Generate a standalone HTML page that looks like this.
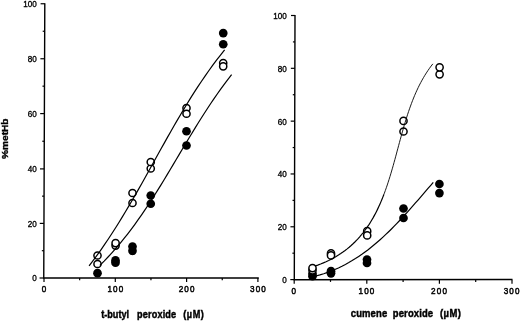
<!DOCTYPE html>
<html><head><meta charset="utf-8"><title>metHb</title>
<style>
html,body{margin:0;padding:0;background:#fff;}
svg{display:block;}
.t{font-family:"Liberation Sans",sans-serif;font-size:9px;fill:#000;stroke:#000;stroke-width:0.35px;}
.x{letter-spacing:1.3px;stroke-width:0.5px;}
.b{font-family:"Liberation Sans",sans-serif;font-size:11px;font-weight:bold;fill:#000;stroke:#000;stroke-width:0.45px;}
</style></head><body>
<svg width="520" height="321" viewBox="0 0 520 321">
<rect width="520" height="321" fill="#fff"/>
<path d="M44.8,3.2 L43.75,278.0 H258.8" fill="none" stroke="#000" stroke-width="1.4"/>
<line x1="39.55" x2="43.75" y1="278.00" y2="278.00" stroke="#000" stroke-width="1.2"/>
<text transform="translate(36.80,281.30) scale(0.9,1)" text-anchor="end" class="t">0</text>
<line x1="41.85" x2="43.85" y1="250.70" y2="250.70" stroke="#000" stroke-width="1.2"/>
<line x1="39.76" x2="43.96" y1="223.40" y2="223.40" stroke="#000" stroke-width="1.2"/>
<text transform="translate(36.80,226.70) scale(0.9,1)" text-anchor="end" class="t">20</text>
<line x1="42.06" x2="44.06" y1="196.15" y2="196.15" stroke="#000" stroke-width="1.2"/>
<line x1="39.97" x2="44.17" y1="168.90" y2="168.90" stroke="#000" stroke-width="1.2"/>
<text transform="translate(36.80,172.20) scale(0.9,1)" text-anchor="end" class="t">40</text>
<line x1="42.27" x2="44.27" y1="141.25" y2="141.25" stroke="#000" stroke-width="1.2"/>
<line x1="40.18" x2="44.38" y1="113.60" y2="113.60" stroke="#000" stroke-width="1.2"/>
<text transform="translate(36.80,116.90) scale(0.9,1)" text-anchor="end" class="t">60</text>
<line x1="42.48" x2="44.48" y1="86.17" y2="86.17" stroke="#000" stroke-width="1.2"/>
<line x1="40.39" x2="44.59" y1="58.75" y2="58.75" stroke="#000" stroke-width="1.2"/>
<text transform="translate(36.80,62.05) scale(0.9,1)" text-anchor="end" class="t">80</text>
<line x1="42.70" x2="44.70" y1="31.25" y2="31.25" stroke="#000" stroke-width="1.2"/>
<line x1="40.60" x2="44.80" y1="3.75" y2="3.75" stroke="#000" stroke-width="1.2"/>
<text transform="translate(36.80,7.05) scale(0.9,1)" text-anchor="end" class="t">100</text>
<line y1="278.0" y2="282.0" x1="44.00" x2="44.00" stroke="#000" stroke-width="1.2"/>
<text transform="translate(44.60,291.90) scale(0.9,1)" text-anchor="middle" class="t x">0</text>
<line y1="278.0" y2="280.2" x1="79.65" x2="79.65" stroke="#000" stroke-width="1.2"/>
<line y1="278.0" y2="282.0" x1="115.30" x2="115.30" stroke="#000" stroke-width="1.2"/>
<text transform="translate(115.90,291.90) scale(0.9,1)" text-anchor="middle" class="t x">100</text>
<line y1="278.0" y2="280.2" x1="150.95" x2="150.95" stroke="#000" stroke-width="1.2"/>
<line y1="278.0" y2="282.0" x1="186.60" x2="186.60" stroke="#000" stroke-width="1.2"/>
<text transform="translate(187.20,291.90) scale(0.9,1)" text-anchor="middle" class="t x">200</text>
<line y1="278.0" y2="280.2" x1="222.25" x2="222.25" stroke="#000" stroke-width="1.2"/>
<line y1="278.0" y2="282.0" x1="257.90" x2="257.90" stroke="#000" stroke-width="1.2"/>
<text transform="translate(258.50,291.90) scale(0.9,1)" text-anchor="middle" class="t x">300</text>
<text transform="translate(101.20,317.90) scale(0.83,1)" text-anchor="start" class="b">t-butyl</text><text transform="translate(137.00,317.90) scale(0.83,1)" text-anchor="start" class="b" style="letter-spacing:0.2px">peroxide</text><text transform="translate(183.20,317.90) scale(0.83,1)" text-anchor="start" class="b" style="letter-spacing:0.7px">(µM)</text>
<text transform="translate(7.7,138.7) rotate(-90) scale(0.92,0.78)" text-anchor="middle" class="b">%metHb</text>
<circle cx="97.5" cy="273.2" r="4.35" fill="#000"/>
<circle cx="115.5" cy="260.4" r="4.35" fill="#000"/>
<circle cx="115.5" cy="262.7" r="4.35" fill="#000"/>
<circle cx="132.5" cy="246.6" r="4.35" fill="#000"/>
<circle cx="132.5" cy="250.8" r="4.35" fill="#000"/>
<circle cx="150.75" cy="195.5" r="4.35" fill="#000"/>
<circle cx="150.75" cy="203.75" r="4.35" fill="#000"/>
<circle cx="186.5" cy="131.25" r="4.35" fill="#000"/>
<circle cx="186.5" cy="145.5" r="4.35" fill="#000"/>
<circle cx="223.25" cy="33.1" r="4.35" fill="#000"/>
<circle cx="223.25" cy="44.25" r="4.35" fill="#000"/>
<circle cx="97.5" cy="264" r="3.6" fill="#fff" stroke="#000" stroke-width="1.5"/>
<circle cx="97.5" cy="255.5" r="3.6" fill="#fff" stroke="#000" stroke-width="1.5"/>
<circle cx="115.6" cy="245.6" r="3.6" fill="#fff" stroke="#000" stroke-width="1.5"/>
<circle cx="115.6" cy="243.1" r="3.6" fill="#fff" stroke="#000" stroke-width="1.5"/>
<circle cx="132.5" cy="203" r="3.6" fill="#fff" stroke="#000" stroke-width="1.5"/>
<circle cx="132.5" cy="193" r="3.6" fill="#fff" stroke="#000" stroke-width="1.5"/>
<circle cx="150.75" cy="168.5" r="3.6" fill="#fff" stroke="#000" stroke-width="1.5"/>
<circle cx="150.75" cy="162" r="3.6" fill="#fff" stroke="#000" stroke-width="1.5"/>
<circle cx="186.5" cy="108" r="3.6" fill="#fff" stroke="#000" stroke-width="1.5"/>
<circle cx="186.5" cy="113.75" r="3.6" fill="#fff" stroke="#000" stroke-width="1.5"/>
<circle cx="223.2" cy="63.0" r="3.6" fill="#fff" stroke="#000" stroke-width="1.5"/>
<circle cx="223.2" cy="66.3" r="3.6" fill="#fff" stroke="#000" stroke-width="1.5"/>
<path d="M89.09,265.91 L93.06,260.68 L96.95,255.40 L100.76,250.07 L104.49,244.69 L108.16,239.26 L111.75,233.79 L115.29,228.29 L118.77,222.74 L122.20,217.17 L125.58,211.56 L128.92,205.93 L132.22,200.27 L135.49,194.59 L138.73,188.90 L141.95,183.19 L145.15,177.47 L148.34,171.74 L151.52,166.01 L154.69,160.27 L157.87,154.54 L161.05,148.81 L164.24,143.09 L167.44,137.37 L170.67,131.68 L173.91,125.99 L177.19,120.33 L180.50,114.69 L183.85,109.08 L187.25,103.49 L190.69,97.94 L194.18,92.42 L197.74,86.94 L201.35,81.51 L205.03,76.11 L208.78,70.77 L212.61,65.47 L216.52,60.23 L220.52,55.04 L224.61,49.92" fill="none" stroke="#000" stroke-width="1.2"/>
<path d="M99.89,265.34 L104.14,261.09 L108.28,256.75 L112.32,252.35 L116.27,247.87 L120.12,243.32 L123.89,238.71 L127.57,234.05 L131.18,229.32 L134.71,224.54 L138.18,219.72 L141.59,214.85 L144.94,209.93 L148.24,204.98 L151.48,200.00 L154.69,194.98 L157.86,189.94 L161.00,184.87 L164.11,179.78 L167.19,174.68 L170.26,169.56 L173.31,164.43 L176.36,159.30 L179.40,154.17 L182.44,149.04 L185.50,143.91 L188.56,138.79 L191.63,133.69 L194.73,128.60 L197.86,123.53 L201.01,118.49 L204.21,113.47 L207.44,108.48 L210.72,103.53 L214.04,98.61 L217.43,93.74 L220.87,88.91 L224.38,84.13 L227.96,79.40 L231.61,74.73" fill="none" stroke="#000" stroke-width="1.2"/>
<path d="M295.0,15 L294.3,279.7 L512.5,279.5" fill="none" stroke="#000" stroke-width="1.4"/>
<line x1="290.30" x2="294.30" y1="279.60" y2="279.60" stroke="#000" stroke-width="1.2"/>
<text transform="translate(286.80,283.00) scale(0.9,1)" text-anchor="end" class="t">0</text>
<line x1="292.37" x2="294.37" y1="253.19" y2="253.19" stroke="#000" stroke-width="1.2"/>
<line x1="290.44" x2="294.44" y1="226.78" y2="226.78" stroke="#000" stroke-width="1.2"/>
<text transform="translate(286.80,230.18) scale(0.9,1)" text-anchor="end" class="t">20</text>
<line x1="292.51" x2="294.51" y1="200.37" y2="200.37" stroke="#000" stroke-width="1.2"/>
<line x1="290.58" x2="294.58" y1="173.96" y2="173.96" stroke="#000" stroke-width="1.2"/>
<text transform="translate(286.80,177.36) scale(0.9,1)" text-anchor="end" class="t">40</text>
<line x1="292.65" x2="294.65" y1="147.55" y2="147.55" stroke="#000" stroke-width="1.2"/>
<line x1="290.72" x2="294.72" y1="121.14" y2="121.14" stroke="#000" stroke-width="1.2"/>
<text transform="translate(286.80,124.54) scale(0.9,1)" text-anchor="end" class="t">60</text>
<line x1="292.79" x2="294.79" y1="94.73" y2="94.73" stroke="#000" stroke-width="1.2"/>
<line x1="290.86" x2="294.86" y1="68.32" y2="68.32" stroke="#000" stroke-width="1.2"/>
<text transform="translate(286.80,71.72) scale(0.9,1)" text-anchor="end" class="t">80</text>
<line x1="292.93" x2="294.93" y1="41.91" y2="41.91" stroke="#000" stroke-width="1.2"/>
<line x1="291.00" x2="295.00" y1="15.50" y2="15.50" stroke="#000" stroke-width="1.2"/>
<text transform="translate(286.80,18.90) scale(0.9,1)" text-anchor="end" class="t">100</text>
<line y1="279.7" y2="283.7" x1="294.20" x2="294.20" stroke="#000" stroke-width="1.2"/>
<text transform="translate(294.40,293.60) scale(0.9,1)" text-anchor="middle" class="t x">0</text>
<line y1="279.7" y2="281.9" x1="330.50" x2="330.50" stroke="#000" stroke-width="1.2"/>
<line y1="279.7" y2="283.7" x1="366.80" x2="366.80" stroke="#000" stroke-width="1.2"/>
<text transform="translate(367.00,293.60) scale(0.9,1)" text-anchor="middle" class="t x">100</text>
<line y1="279.7" y2="281.9" x1="403.10" x2="403.10" stroke="#000" stroke-width="1.2"/>
<line y1="279.7" y2="283.7" x1="439.40" x2="439.40" stroke="#000" stroke-width="1.2"/>
<text transform="translate(439.60,293.60) scale(0.9,1)" text-anchor="middle" class="t x">200</text>
<line y1="279.7" y2="281.9" x1="475.70" x2="475.70" stroke="#000" stroke-width="1.2"/>
<line y1="279.7" y2="283.7" x1="512.00" x2="512.00" stroke="#000" stroke-width="1.2"/>
<text transform="translate(512.20,293.60) scale(0.9,1)" text-anchor="middle" class="t x">300</text>
<text transform="translate(350.80,317.30) scale(0.86,1)" text-anchor="start" class="b" style="letter-spacing:0.15px">cumene</text><text transform="translate(392.80,317.30) scale(0.86,1)" text-anchor="start" class="b" style="letter-spacing:0.15px">peroxide</text><text transform="translate(440.00,317.30) scale(0.86,1)" text-anchor="start" class="b" style="letter-spacing:0.5px">(µM)</text>
<circle cx="312.5" cy="273.75" r="4.35" fill="#000"/>
<circle cx="312.5" cy="276.25" r="4.35" fill="#000"/>
<circle cx="331.0" cy="271.2" r="4.35" fill="#000"/>
<circle cx="331.0" cy="273.3" r="4.35" fill="#000"/>
<circle cx="367" cy="259.5" r="4.35" fill="#000"/>
<circle cx="367" cy="263" r="4.35" fill="#000"/>
<circle cx="403.5" cy="208.5" r="4.35" fill="#000"/>
<circle cx="403.5" cy="218" r="4.35" fill="#000"/>
<circle cx="439.4" cy="184" r="4.35" fill="#000"/>
<circle cx="439.4" cy="193.1" r="4.35" fill="#000"/>
<circle cx="312.5" cy="270.3" r="3.6" fill="#fff" stroke="#000" stroke-width="1.5"/>
<circle cx="312.5" cy="268.1" r="3.6" fill="#fff" stroke="#000" stroke-width="1.5"/>
<circle cx="331.0" cy="253.4" r="3.6" fill="#fff" stroke="#000" stroke-width="1.5"/>
<circle cx="331.0" cy="255.4" r="3.6" fill="#fff" stroke="#000" stroke-width="1.5"/>
<circle cx="367.2" cy="231.2" r="3.6" fill="#fff" stroke="#000" stroke-width="1.5"/>
<circle cx="367.2" cy="235.4" r="3.6" fill="#fff" stroke="#000" stroke-width="1.5"/>
<circle cx="403.5" cy="131.5" r="3.6" fill="#fff" stroke="#000" stroke-width="1.5"/>
<circle cx="403.5" cy="120.9" r="3.6" fill="#fff" stroke="#000" stroke-width="1.5"/>
<circle cx="439.6" cy="74.3" r="3.6" fill="#fff" stroke="#000" stroke-width="1.5"/>
<circle cx="439.6" cy="67.3" r="3.6" fill="#fff" stroke="#000" stroke-width="1.5"/>
<path d="M314.81,266.17 L317.74,265.14 L320.59,264.06 L323.36,262.92 L326.05,261.73 L328.67,260.49 L331.22,259.20 L333.70,257.86 L336.11,256.48 L338.45,255.04 L340.73,253.56 L342.93,252.03 L345.08,250.46 L347.16,248.85 L349.18,247.19 L351.14,245.49 L353.04,243.75 L354.88,241.97 L356.67,240.15 L358.41,238.29 L360.09,236.40 L361.72,234.47 L363.30,232.51 L364.83,230.51 L366.31,228.48 L367.74,226.41 L369.14,224.32 L370.48,222.20 L371.79,220.04 L373.06,217.86 L374.28,215.65 L375.47,213.42 L376.62,211.16 L377.74,208.87 L378.82,206.56 L379.88,204.23 L380.90,201.88 L381.89,199.51 L382.85,197.12 L383.79,194.70" fill="none" stroke="#000" stroke-width="1.2"/>
<path d="M383.35,195.83 L384.38,193.14 L385.37,190.44 L386.33,187.71 L387.27,184.97 L388.18,182.21 L389.07,179.43 L389.94,176.64 L390.79,173.84 L391.62,171.03 L392.44,168.20 L393.25,165.37 L394.04,162.52 L394.83,159.68 L395.60,156.82 L396.38,153.96 L397.14,151.10 L397.91,148.24 L398.68,145.38 L399.45,142.52 L400.22,139.66 L401.00,136.81 L401.79,133.96 L402.58,131.12 L403.39,128.29 L404.21,125.46 L405.05,122.65 L405.90,119.85 L406.78,117.06 L407.67,114.28 L408.59,111.53 L409.53,108.78 L410.50,106.06 L411.49,103.36 L412.52,100.67 L413.58,98.01 L414.67,95.38 L415.80,92.77 L416.97,90.18 L418.18,87.62 L419.42,85.09 L420.72,82.60 L422.05,80.13 L423.44,77.69 L424.87,75.29 L426.36,72.93 L427.90,70.60 L429.49,68.31 L431.14,66.06 L432.85,63.85" fill="none" stroke="#000" stroke-width="0.9"/>
<path d="M315.98,275.99 L319.89,274.92 L323.73,273.73 L327.50,272.44 L331.21,271.04 L334.85,269.54 L338.43,267.93 L341.94,266.24 L345.40,264.45 L348.80,262.57 L352.15,260.61 L355.44,258.57 L358.69,256.44 L361.88,254.25 L365.02,251.98 L368.12,249.65 L371.17,247.25 L374.18,244.79 L377.15,242.27 L380.08,239.70 L382.97,237.08 L385.83,234.41 L388.66,231.70 L391.45,228.95 L394.21,226.16 L396.94,223.35 L399.65,220.50 L402.33,217.62 L404.99,214.72 L407.63,211.81 L410.25,208.87 L412.86,205.93 L415.44,202.98 L418.02,200.02 L420.58,197.06 L423.13,194.10 L425.67,191.14 L428.21,188.20 L430.74,185.27 L433.27,182.35" fill="none" stroke="#000" stroke-width="1.2"/>
</svg>
</body></html>
